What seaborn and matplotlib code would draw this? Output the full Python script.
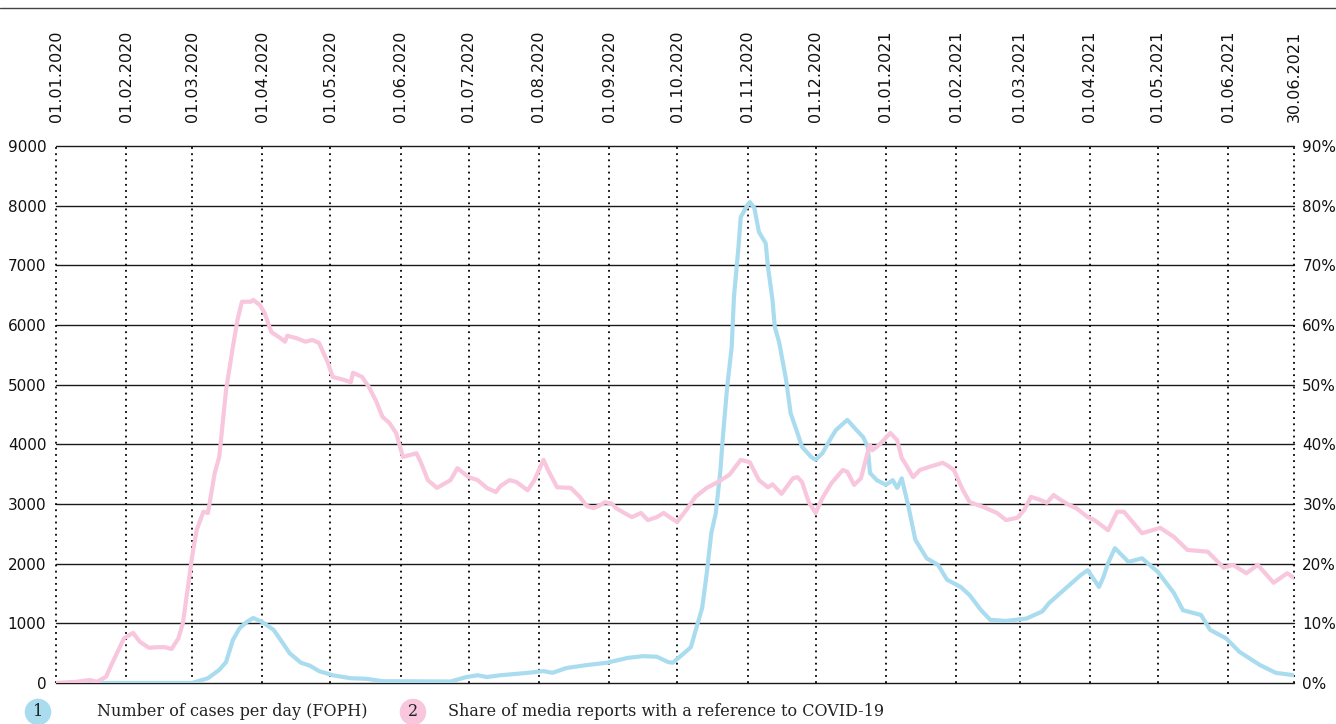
import pandas as pd
import numpy as np
import seaborn as sns
import matplotlib.pyplot as plt
import matplotlib.dates as mdates
from matplotlib.lines import Line2D

# Data (day = days since 01.01.2020)
cases_day = [0, 60, 67, 72, 75, 78, 81, 84, 87, 91, 96, 100, 103, 108, 112, 116,
             122, 130, 137, 144, 174, 181, 186, 190, 196, 208, 215, 219, 225, 234,
             243, 252, 259, 265, 270, 272, 277, 280, 283, 285, 287, 289, 291, 293,
             294, 296, 298, 299, 301, 302, 305, 306, 308, 310, 313, 314, 316, 317,
             319, 322, 324, 327, 329, 333, 335, 338, 342, 344, 349, 353, 356, 358,
             359, 362, 366, 369, 371, 373, 376, 379, 384, 389, 393, 399, 403, 408,
             412, 419, 428, 435, 438, 446, 452, 455, 457, 460, 462, 464, 467, 473,
             479, 486, 493, 497, 505, 509, 516, 522, 531, 538, 546]
cases = [0, 0, 80, 220, 350, 720, 920, 1020, 1090, 1020, 890, 670, 500, 340, 290, 200,
         130, 80, 70, 30, 25, 100, 130, 100, 130, 170, 200, 170, 250, 300,
         340, 420, 450, 440, 350, 340, 500, 600, 1000, 1260, 1840, 2510, 2850, 3550,
         4070, 4960, 5630, 6470, 7310, 7810, 8010, 8060, 7960, 7560, 7370, 6970, 6420, 5970,
         5700, 5080, 4520, 4190, 3960, 3790, 3740, 3850, 4120, 4240, 4410, 4240, 4120, 3960,
         3520, 3400, 3320, 3400, 3270, 3430, 2950, 2400, 2090, 1980, 1730, 1610, 1470, 1220,
         1060, 1040, 1080, 1200, 1340, 1610, 1810, 1890, 1780, 1610, 1780, 2010, 2260, 2030,
         2090, 1860, 1510, 1220, 1140, 890, 750, 520, 300, 170, 130]

media_day = [0, 9, 15, 18, 22, 25, 30, 34, 37, 41, 45, 48, 51, 54, 56, 58, 60, 62, 65,
             67, 68, 70, 72, 75, 78, 80, 82, 86, 87, 90, 92, 95, 99, 101, 102, 106,
             110, 113, 116, 120, 122, 127, 130, 131, 135, 138, 141, 144, 147, 150, 153,
             159, 161, 164, 168, 174, 177, 182, 186, 190, 194, 196, 200, 203, 208, 211,
             215, 217, 221, 227, 231, 234, 237, 240, 242, 245, 247, 252, 254, 258, 261,
             265, 268, 271, 274, 278, 282, 287, 292, 297, 302, 306, 310, 314, 316, 320,
             325, 327, 329, 332, 335, 338, 342, 347, 349, 352, 355, 358, 359, 360, 363,
             368, 371, 373, 375, 378, 381, 385, 391, 393, 396, 400, 403, 409, 415, 419,
             424, 427, 430, 434, 437, 440, 443, 447, 450, 455, 458, 464, 468, 471, 479,
             487, 493, 499, 508, 515, 519, 525, 530, 537, 543, 546]
media_share = [0, 0.2, 0.5, 0.2, 1.0, 3.5, 7.5, 8.4, 6.9, 5.9, 6.0, 6.0, 5.7, 7.5, 10.1,
               15.6, 21.1, 25.6, 28.7, 28.5, 30.7, 35.2, 37.9, 49.1, 56.3, 60.8, 63.9,
               63.9, 64.2, 63.3, 62.0, 58.8, 57.8, 57.2, 58.2, 57.8, 57.2, 57.5, 57.0,
               53.6, 51.3, 50.8, 50.4, 52.0, 51.3, 49.6, 47.4, 44.6, 43.6, 41.9, 37.9,
               38.5, 36.9, 34.0, 32.7, 34.0, 36.0, 34.5, 34.0, 32.7, 32.0, 33.0, 34.0,
               33.7, 32.3, 34.0, 37.4, 35.7, 32.8, 32.7, 31.2, 29.7, 29.3, 29.8, 30.3,
               30.1, 29.3, 28.2, 27.8, 28.5, 27.3, 27.8, 28.5, 27.7, 27.0, 29.0, 31.2,
               32.7, 33.7, 34.9, 37.4, 37.0, 34.0, 32.8, 33.3, 31.7, 34.3, 34.5, 33.7,
               30.3, 28.5, 31.0, 33.5, 35.7, 35.4, 33.2, 34.3, 38.7, 39.9, 39.0, 39.9,
               41.9, 40.7, 37.7, 36.5, 34.5, 35.7, 36.2, 36.9, 36.5, 35.7, 32.3, 30.3,
               29.5, 28.5, 27.3, 27.7, 29.0, 31.2, 30.7, 30.2, 31.5, 30.7, 29.8, 29.3,
               27.8, 27.3, 25.6, 28.7, 28.7, 25.1, 26.0, 24.5, 22.3, 22.0, 19.3, 19.8,
               18.4, 19.8, 16.8, 18.4, 17.6]

start = pd.Timestamp("2020-01-01")
end = pd.Timestamp("2021-06-30")
tick_dates = list(pd.date_range("2020-01-01", "2021-06-01", freq="MS")) + [end]

legend_labels = ["Number of cases per day (FOPH)",
                 "Share of media reports with a reference to COVID-19"]
blue = "#aadcef"
pink = "#f8c6dd"

sns.set_theme(style="white")
plt.rcParams["font.family"] = ["DejaVu Sans"]

df_cases = pd.DataFrame({"date": start + pd.to_timedelta(cases_day, unit="D"), "cases": cases})
df_media = pd.DataFrame({"date": start + pd.to_timedelta(media_day, unit="D"), "share": media_share})

fig = plt.figure(figsize=(13.36, 7.24), dpi=100)
ax = fig.add_axes([56 / 1336, 1 - 683 / 724, (1294 - 56) / 1336, (683 - 146) / 724])
ax2 = ax.twinx()

# grid
for v in range(0, 9001, 1000):
    ax.axhline(v, color="#1a1a1a", lw=1, zorder=0, clip_on=False)
for d in tick_dates:
    ax.axvline(d, color="black", lw=1.3, ls=(0, (1, 2.4)), zorder=0, clip_on=False)

sns.lineplot(data=df_cases, x="date", y="cases", ax=ax, color=blue, lw=3)
sns.lineplot(data=df_media, x="date", y="share", ax=ax2, color=pink, lw=3)

ax.set_xlim(start, end)
ax.set_ylim(0, 9000)
ax2.set_ylim(0, 90)
for a in (ax, ax2):
    a.set_xlabel("")
    a.set_ylabel("")
    for s in a.spines.values():
        s.set_visible(False)

ax.set_yticks(range(0, 9001, 1000))
ax.set_yticklabels([str(v) for v in range(0, 9001, 1000)])
ax2.set_yticks(range(0, 91, 10))
ax2.set_yticklabels([f"{v}%" for v in range(0, 91, 10)])
ax.tick_params(axis="y", length=0, pad=7, labelsize=11, colors="#111")
ax2.tick_params(axis="y", length=0, pad=6, labelsize=11, colors="#111")

ax.xaxis.tick_top()
ax.set_xticks(tick_dates)
ax.set_xticklabels([d.strftime("%d.%m.%Y") for d in tick_dates], rotation=90)
ax.tick_params(axis="x", length=0, pad=17.5, labelsize=11.5, colors="#111")

# top rule
fig.add_artist(Line2D([0, 1], [1 - 8 / 724] * 2, color="#444", lw=1))

# legend
for i, (xc, xt, col, lab) in enumerate([(38, 97, blue, legend_labels[0]),
                                        (413, 448, pink, legend_labels[1])]):
    fig.text(xc / 1336, 1 - 712 / 724, str(i + 1), ha="center", va="center",
             fontsize=11.5, family="DejaVu Serif", color="#222",
             bbox=dict(boxstyle="circle,pad=0.3", fc=col, ec="none"))
    fig.text(xt / 1336, 1 - 712 / 724, lab, ha="left", va="center",
             fontsize=11.5, family="DejaVu Serif", color="#222")

fig.savefig("out.png", dpi=100)
